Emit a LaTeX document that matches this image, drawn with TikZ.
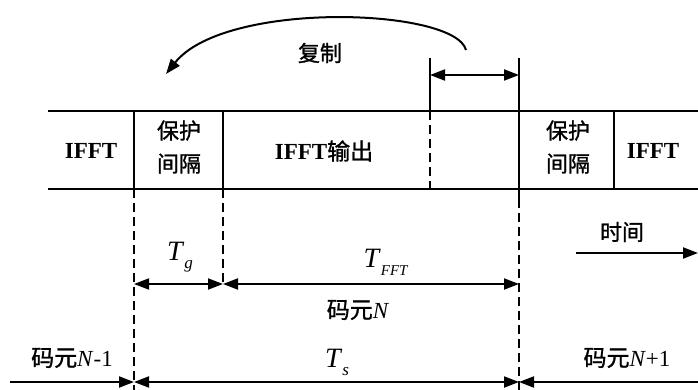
\documentclass[tikz,border=0pt]{standalone}
\usepackage{fontspec}
\setmainfont{Liberation Serif}
\newfontfamily\cjk[FakeBold=1.2]{Noto Sans CJK SC}
\usetikzlibrary{arrows.meta}
\begin{document}
\begin{tikzpicture}[x=1pt,y=-1pt,
  solidline/.style={line width=2pt},
  dashline/.style={line width=2pt, dash pattern=on 9pt off 5pt},
  tipA/.tip={Triangle[length=15pt,width=11pt]},
  arr/.style={line width=2pt},
  cn/.style={font=\fontsize{22}{33}\selectfont\cjk, inner sep=0pt, align=center},
  lat/.style={font=\fontsize{23}{26}\selectfont\bfseries, inner sep=0pt},
  lab/.style={font=\fontsize{23}{26}\selectfont, inner sep=0pt},
  big/.style={font=\fontsize{28}{30}\selectfont, inner sep=0pt}]
\useasboundingbox (0,0) rectangle (698,390);
% table
\coordinate (tl) at (48,111); \coordinate (tr) at (698,111);
\coordinate (bl) at (48,189); \coordinate (br) at (698,189);
\draw[solidline] (tl) -- (tr);
\draw[solidline] (bl) -- (br);
\coordinate (v1t) at (134,111); \coordinate (v1b) at (134,189);
\coordinate (v2t) at (223,111); \coordinate (v2b) at (223,189);
\coordinate (v3t) at (430,111); \coordinate (v3b) at (430,189);
\coordinate (v4t) at (519,111); \coordinate (v4b) at (519,199);
\coordinate (v5t) at (614,111); \coordinate (v5b) at (614,189);
\draw[solidline] (v1t) -- (v1b);
\draw[solidline] (v2t) -- (v2b);
\draw[dashline] (v3t) -- (v3b);
\draw[solidline] (v4t) -- (v4b);
\draw[solidline] (v5t) -- (v5b);
% table texts
\node[lat] (ifftL) at (91,151) {IFFT};
\node[cn] (gi1) at (179,147) {保护\\间隔};
\node[lat] (ifftout) at (324,151) {IFFT\cjk\mdseries 输出};
\node[cn] (gi2) at (568,147) {保护\\间隔};
\node[lat] (ifftR) at (653,151) {IFFT};
% copy bracket
\coordinate (c1t) at (430,58); \coordinate (c2t) at (519,58);
\draw[solidline] (c1t) -- (v3t);
\draw[solidline] (c2t) -- (v4t);
\coordinate (ca) at (430,75); \coordinate (cb) at (519,75);
\draw[arr,{tipA}-{tipA}] (ca) -- (cb);
\coordinate (cs) at (466,50); \coordinate (ce) at (166,74);
\draw[arr,-{tipA}] (cs) .. controls (455,8) and (225,0) .. (ce);
\node[cn] (copy) at (320,53) {复制};
% dashed extension lines
\coordinate (d1b) at (134,390);
\coordinate (d2b) at (223,284);
\coordinate (d4b) at (519,390);
\draw[dashline] (v1b) -- (d1b);
\draw[dashline] (v2b) -- (d2b);
\draw[dashline] (v4b) -- (d4b);
% Tg and TFFT arrows
\coordinate (g1) at (134,284); \coordinate (g2) at (223,284); \coordinate (g3) at (519,284);
\draw[arr,{tipA}-{tipA}] (g1) -- (g2);
\draw[arr,{tipA}-{tipA}] (g2) -- (g3);
\node[big] (tg) at (180,257) {\textit{T}\raisebox{-8pt}{\fontsize{17}{18}\selectfont\textit{g}}};
\node[big] (tfft) at (386,262) {\textit{T}\raisebox{-8pt}{\fontsize{15}{18}\selectfont\textit{FFT}}};
\node[lab] (symN) at (358,310) {\cjk 码元\rmfamily\textit{N}};
% time arrow
\node[cn] (time) at (622,232) {时间};
\coordinate (ta) at (576,253); \coordinate (tb) at (698,253);
\draw[arr,-{tipA}] (ta) -- (tb);
% bottom line
\coordinate (s0) at (10,382); \coordinate (s1) at (134,382);
\coordinate (s2) at (519,382); \coordinate (s3) at (698,382);
\draw[arr,-{tipA}] (s0) -- (s1);
\draw[arr,{tipA}-{tipA}] (s1) -- (s2);
\draw[arr,-{tipA}] (s3) -- (s2);
\node[lab] (symNm) at (72,358) {\cjk 码元\rmfamily\textit{N}-1};
\node[big] (ts) at (337,362) {\textit{T}\raisebox{-8pt}{\fontsize{17}{18}\selectfont\textit{s}}};
\node[lab] (symNp) at (627,358) {\cjk 码元\rmfamily\textit{N}+1};
\end{tikzpicture}
\end{document}
